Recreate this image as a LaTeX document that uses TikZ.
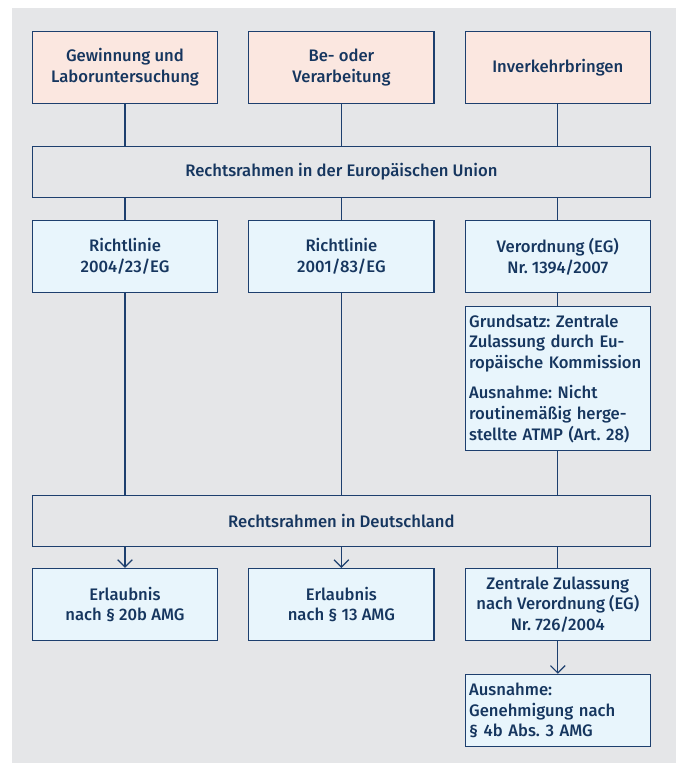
\documentclass[tikz,border=0pt]{standalone}
\usepackage{fontspec}
\setmainfont{Fira Sans}[UprightFont=* Medium]
\usepackage{xcolor}
\usepackage{tikz}
\usetikzlibrary{arrows.meta, positioning}
\frenchspacing

\definecolor{navy}{HTML}{1D3F6E}
\definecolor{textnavy}{HTML}{16365F}
\definecolor{pinkfill}{HTML}{FBE7E0}
\definecolor{bluefill}{HTML}{E8F5FC}
\definecolor{panelgray}{HTML}{E5E6E8}

\begin{document}
\begin{tikzpicture}[
    x=0.75pt, y=-0.75pt,
    node distance=16.25pt and 22.4pt,
    font=\fontsize{12.5}{15.6}\selectfont, text=textnavy,
    srcbox/.style={
        draw=navy, line width=0.9pt, rectangle,
        minimum width=139pt, minimum height=54pt,
        align=center, fill=pinkfill
    },
    lawbox/.style={
        draw=navy, line width=0.9pt, rectangle,
        minimum width=139pt, minimum height=54pt,
        align=center, fill=bluefill
    },
    notebox/.style={
        draw=navy, line width=0.9pt, rectangle,
        text width=133pt, inner sep=3pt,
        align=left, fill=bluefill
    },
    framebox/.style={
        draw=navy, line width=0.9pt, rectangle,
        minimum width=463.5pt, minimum height=38.5pt,
        align=center
    },
    link/.style={draw=navy, line width=0.9pt},
    arrow/.style={link, -{Straight Barb[length=5.5pt,width=11pt]}}
]

% --- page and grey panel
\useasboundingbox (0,0) rectangle (676,763);
\fill[panelgray] (12,8) rectangle (676,763);

% --- Row 1: activities
\node (gew)  [srcbox] at (125,67.5)             {Gewinnung und\\Laboruntersuchung};
\node (bea)  [srcbox, right=of gew]             {Be- oder\\Verarbeitung};
\node (inv)  [srcbox, right=of bea]             {Inverkehrbringen};

% --- EU framework
\node (eu)   [framebox, below=31.25pt of bea]   {Rechtsrahmen in der Europäischen Union};

% --- Row 2: EU acts
\node (rl2)  [lawbox, below=of eu]              {Richtlinie\\2001/83/EG};
\node (rl1)  [lawbox, left=of rl2]              {Richtlinie\\2004/23/EG};
\node (vo)   [lawbox, right=of rl2]             {Verordnung (EG)\\Nr. 1394/2007};
\node (gs)   [notebox, minimum height=108pt, below=9.75pt of vo]
                                                {Grundsatz: Zentrale\\Zulassung durch Eu-\\ropäische Kommission\\[7pt]
                                                 Ausnahme: Nicht\\routinemäßig herge-\\stellte ATMP (Art. 28)};

% --- German framework
\path (gs.south -| rl2.south) ++(0,-32.5pt) coordinate (detop);
\node (de)   [framebox, anchor=north] at (detop) {Rechtsrahmen in Deutschland};

% --- Row 3: German permits
\node (e2)   [lawbox, below=15.5pt of de]       {Erlaubnis\\nach § 13 AMG};
\node (e1)   [lawbox, left=of e2]               {Erlaubnis\\nach § 20b AMG};
\node (zz)   [lawbox, right=of e2]              {Zentrale Zulassung\\nach Verordnung (EG)\\Nr. 726/2004};
\node (aus)  [notebox, minimum height=54pt, below=24.5pt of zz]
                                                {Ausnahme:\\Genehmigung nach\\§ 4b Abs. 3 AMG};

% --- Row 1 into EU box
\draw [link] (gew) -- (gew |- eu.north);
\draw [link] (bea) -- (bea |- eu.north);
\draw [link] (inv) -- (inv |- eu.north);

% --- EU box to acts
\draw [link] (eu.south -| rl1) -- (rl1);
\draw [link] (eu.south -| rl2) -- (rl2);
\draw [link] (eu.south -| vo)  -- (vo);
\draw [link] (vo) -- (gs);

% --- acts into German box
\draw [link] (rl1) -- (rl1 |- de.north);
\draw [link] (rl2) -- (rl2 |- de.north);
\draw [link] (gs)  -- (gs |- de.north);

% --- German box to permits
\draw [arrow] (de.south -| e1) -- (e1);
\draw [arrow] (de.south -| e2) -- (e2);
\draw [link]  (de.south -| zz) -- (zz);
\draw [arrow] (zz) -- (aus);

\end{tikzpicture}
\end{document}
